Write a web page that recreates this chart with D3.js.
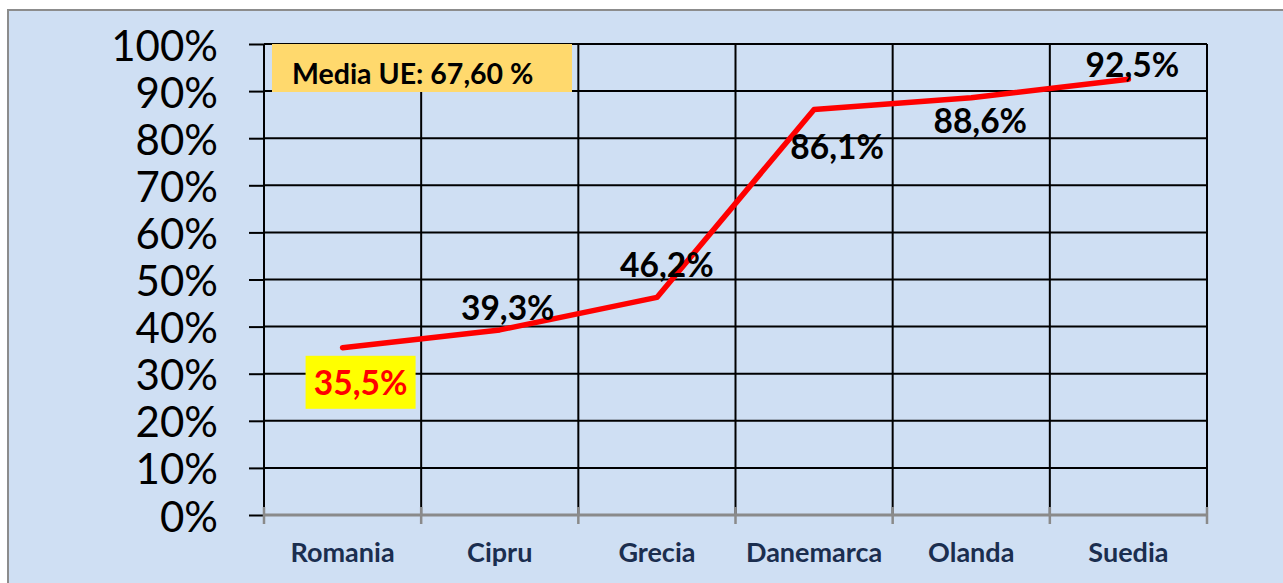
<!DOCTYPE html>
<html>
<head>
<meta charset="utf-8">
<script src="https://cdn.jsdelivr.net/npm/d3@7"></script>
<style>
  html, body { margin: 0; padding: 0; background: #ffffff; }
  svg { display: block; }
</style>
</head>
<body>
<svg id="chart" width="1283" height="583"></svg>
<script>
// ---- data ----
const categories = ["Romania", "Cipru", "Grecia", "Danemarca", "Olanda", "Suedia"];
const values = [0.355, 0.393, 0.462, 0.861, 0.886, 0.925];
const valueLabels = ["35,5%", "39,3%", "46,2%", "86,1%", "88,6%", "92,5%"];
const yTicks = [0, 0.1, 0.2, 0.3, 0.4, 0.5, 0.6, 0.7, 0.8, 0.9, 1.0];
const yTickLabels = ["0%", "10%", "20%", "30%", "40%", "50%", "60%", "70%", "80%", "90%", "100%"];
const averageText = "Media UE: 67,60 %";

// label placement offsets (pixels, relative to the point)
const labelDx = [18, 8, 10, 23, 9, 4];
const labelDy = [47, -10, -20, 50, 35, -2];

const svg = d3.select("#chart");
const W = 1283, H = 583;
const pLeft = 264, pRight = 1207, pTop = 44, pBottom = 515;

// outer frame
svg.append("rect").attr("x", 8).attr("y", 10).attr("width", W + 20).attr("height", H + 20)
  .attr("fill", "#cfdff3").attr("stroke", "#8c8c8c").attr("stroke-width", 2);

const x = d3.scaleBand().domain(categories).range([pLeft, pRight]).padding(0);
const y = d3.scaleLinear().domain([0, 1]).range([pBottom, pTop]);

// horizontal gridlines
svg.append("g").selectAll("line").data(yTicks.slice(1)).join("line")
  .attr("x1", pLeft).attr("x2", pRight)
  .attr("y1", d => y(d)).attr("y2", d => y(d))
  .attr("stroke", "#000").attr("stroke-width", 2);

// vertical gridlines at category boundaries
const bounds = categories.map(c => x(c)).concat([pRight]);
svg.append("g").selectAll("line").data(bounds.slice(1)).join("line")
  .attr("x1", d => d).attr("x2", d => d)
  .attr("y1", pTop).attr("y2", pBottom)
  .attr("stroke", "#000").attr("stroke-width", 2);

// y axis
const yAxis = d3.axisLeft(y).tickValues(yTicks)
  .tickFormat((d, i) => yTickLabels[i]).tickSize(15).tickPadding(31);
const ya = svg.append("g").attr("transform", `translate(${pLeft},0)`).call(yAxis);
ya.select(".domain").attr("stroke", "#000").attr("stroke-width", 2)
  .attr("d", `M0,${pTop}V${pBottom}`);
ya.selectAll(".tick line").attr("stroke", "#000").attr("stroke-width", 2);
ya.selectAll(".tick text")
  .attr("font-family", "Lato, 'Open Sans', sans-serif")
  .attr("font-size", 42).attr("fill", "#000")
  .attr("dy", null).attr("y", 16);

// x axis (grey)
const xa = svg.append("g").attr("transform", `translate(0,${pBottom})`);
xa.append("line").attr("x1", pLeft).attr("x2", pRight).attr("y1", 0).attr("y2", 0)
  .attr("stroke", "#8a8a8a").attr("stroke-width", 3);
xa.selectAll("line.tk").data(bounds).join("line").attr("class", "tk")
  .attr("x1", d => d).attr("x2", d => d).attr("y1", -8).attr("y2", 9)
  .attr("stroke", "#8a8a8a").attr("stroke-width", 2.5);
xa.selectAll("text").data(categories).join("text")
  .attr("x", d => x(d) + x.bandwidth() / 2).attr("y", 47)
  .attr("text-anchor", "middle")
  .attr("font-family", "Lato, 'Open Sans', sans-serif")
  .attr("font-weight", "bold").attr("font-size", 27).attr("fill", "#1b2e4f")
  .text(d => d);

// average box
const avgG = svg.append("g");
avgG.append("rect").attr("x", 272).attr("y", 44).attr("width", 300).attr("height", 48)
  .attr("fill", "#ffd96d");
avgG.append("text").attr("x", 292).attr("y", 84)
  .attr("font-family", "Lato, 'Open Sans', sans-serif")
  .attr("font-weight", "bold").attr("font-size", 28.5).attr("fill", "#000")
  .text(averageText);

// line
const pts = categories.map((c, i) => [x(c) + x.bandwidth() / 2, y(values[i])]);
svg.append("path").datum(pts)
  .attr("d", d3.line())
  .attr("fill", "none").attr("stroke", "#ff0000").attr("stroke-width", 5.5)
  .attr("stroke-linejoin", "round").attr("stroke-linecap", "round");

// value labels
const lab = svg.append("g");
pts.forEach((p, i) => {
  const tx = p[0] + labelDx[i], ty = p[1] + labelDy[i];
  if (i === 0) {
    lab.append("rect").attr("x", tx - 55).attr("y", ty - 39).attr("width", 110).attr("height", 53)
      .attr("fill", "#ffff00");
  }
  lab.append("text").attr("x", tx).attr("y", ty)
    .attr("text-anchor", "middle")
    .attr("font-family", "Lato, 'Open Sans', sans-serif")
    .attr("font-weight", "bold").attr("font-size", 33.5)
    .attr("fill", i === 0 ? "#ff0000" : "#000")
    .text(valueLabels[i]);
});
</script>
</body>
</html>
